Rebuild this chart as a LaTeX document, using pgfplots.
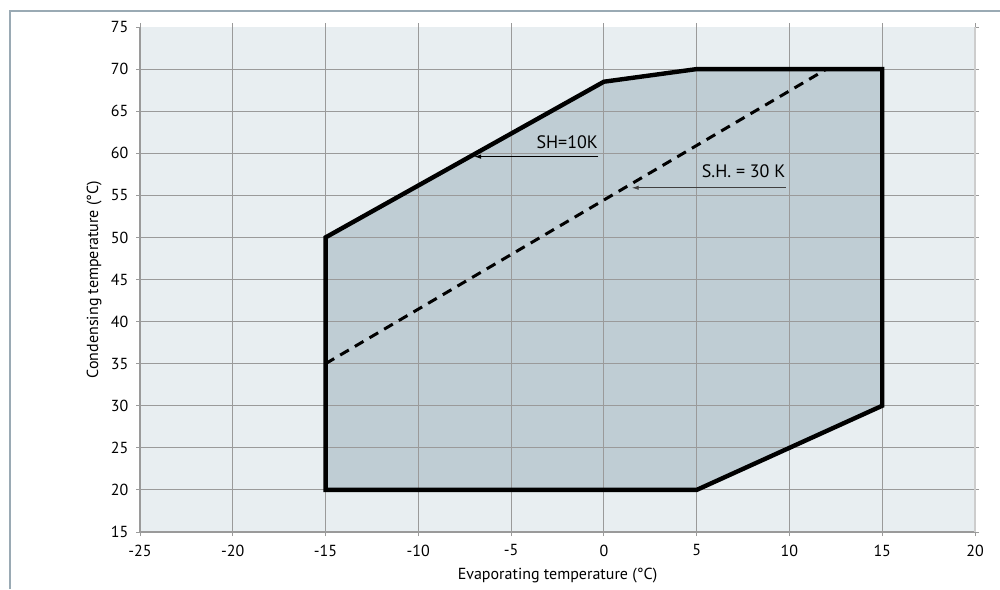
\documentclass[border=0pt]{standalone}
\usepackage{pgfplots}
\pgfplotsset{compat=1.18}
\usepackage{fontspec}
\setmainfont{PT Sans}
\usetikzlibrary{arrows.meta}
\definecolor{bg}{HTML}{E8EEF1}
\definecolor{fillc}{HTML}{BFCDD4}
\definecolor{gridc}{HTML}{9A9A9A}
\definecolor{framec}{HTML}{9AAAB4}
\begin{document}
\fontsize{8}{9}\selectfont
\begin{tikzpicture}
\path[use as bounding box] (0,0) rectangle (500pt,294.5pt);
\draw[framec, line width=0.6pt] (5pt,0) -- (5pt,289pt) -- (500pt,289pt);
\begin{axis}[at={(70pt,28.5pt)}, anchor=south west,
  width=417.5pt, height=252.5pt, scale only axis,
  xmin=-25, xmax=20, ymin=15, ymax=75,
  xtick={-25,-20,-15,-10,-5,0,5,10,15,20},
  xticklabels={-25,-20,-15,-10,-5,0,5,10,15,20},
  ytick={15,20,25,30,35,40,45,50,55,60,65,70,75},
  yticklabels={15,20,25,30,35,40,45,50,55,60,65,70,75},
  axis line style={draw=none},
  tick align=outside, major tick length=2pt,
  tick style={gridc, line width=0.5pt},
  axis background/.style={fill=bg},
  xlabel={Evaporating temperature (°C)},
  ylabel={Condensing temperature (°C)},
  ticklabel style={font=\fontsize{8}{9}\selectfont},
  label style={font=\fontsize{8}{9}\selectfont},
  xticklabel style={yshift=-1.5pt},
  yticklabel style={xshift=-1pt},
  xlabel style={yshift=-0.5pt},
  ylabel style={yshift=-1pt},
  clip=false,
]
\addplot[fill=fillc, draw=none] coordinates {(-15,20) (-15,50) (0,68.5) (5,70) (15,70) (15,30) (5,20)} -- cycle;
\foreach \x in {-20,-15,-10,-5,0,5,10,15} {
  \edef\tmp{\noexpand\draw[gridc, line width=0.5pt] (axis cs:\x,15) -- (axis cs:\x,75);}\tmp
}
\foreach \y in {20,25,30,35,40,45,50,55,60,65,70} {
  \edef\tmp{\noexpand\draw[gridc, line width=0.5pt] (axis cs:-25,\y) -- (axis cs:20,\y);}\tmp
}
\draw[gridc, line width=0.6pt] (axis cs:-25,75) -- (axis cs:-25,15) -- (axis cs:20,15);
\draw[gridc!50, line width=0.8pt] (axis cs:20,15) -- (axis cs:20,75);
\addplot[black, line width=2.2pt, line join=miter] coordinates {(-15,20) (-15,50) (0,68.5) (5,70) (15,70) (15,30) (5,20)} -- cycle;
\addplot[black, line width=1.5pt, dash pattern=on 5pt off 3.5pt] coordinates {(-15,35) (12,70)};
\draw[-{Latex[length=3.5pt,width=2.2pt]}, line width=0.45pt] (axis cs:-0.3,59.6) -- (axis cs:-7,59.6);
\node[anchor=south east, inner sep=0pt, font=\fontsize{9}{10}\selectfont] at (axis cs:-0.3,60.5) {SH=10K};
\draw[-{Latex[length=3.5pt,width=2.2pt]}, line width=0.45pt, black!75] (axis cs:9.8,55.9) -- (axis cs:1.5,55.9);
\node[anchor=south east, inner sep=0pt, font=\fontsize{9}{10}\selectfont] at (axis cs:9.8,57.0) {S.H. = 30 K};
\end{axis}
\end{tikzpicture}
\end{document}
